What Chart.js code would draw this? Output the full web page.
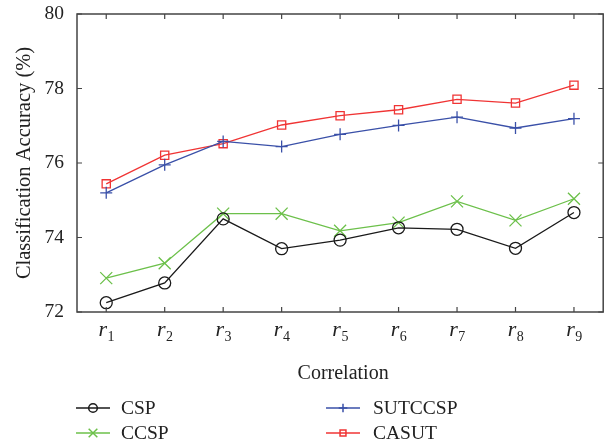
<!DOCTYPE html>
<html lang="en">
<head>
    <meta charset="UTF-8">
    <title>Classification Accuracy vs Correlation</title>
    <script src="https://cdn.jsdelivr.net/npm/chart.js"></script>
    <style>
        body { margin: 0; padding: 0; background: #fff; }
        .chart-box { width: 613px; height: 447px; position: relative; }
    </style>
</head>
<body>
    <div class="chart-box"><canvas id="accChart"></canvas></div>

    <script>
        // data
        const corrLabels = ['1', '2', '3', '4', '5', '6', '7', '8', '9'];   // subscripts of r
        const yTicks = [72, 74, 76, 78, 80];
        const cspVals     = [72.25, 72.78, 74.50, 73.70, 73.93, 74.26, 74.22, 73.71, 74.67];
        const ccspVals    = [72.91, 73.31, 74.64, 74.64, 74.18, 74.40, 74.97, 74.46, 75.04];
        const sutccspVals = [75.20, 75.95, 76.58, 76.44, 76.77, 77.01, 77.23, 76.94, 77.19];
        const casutVals   = [75.44, 76.21, 76.52, 77.02, 77.27, 77.43, 77.71, 77.61, 78.09];

        const serif = "'Liberation Serif', 'DejaVu Serif', serif";

        function pts(vals) {
            return vals.map((v, i) => ({ x: i + 1, y: v }));
        }

        const series = [
            { label: 'CSP', data: cspVals, color: '#1a1a1a', style: 'circle', r: 6 },
            { label: 'CCSP', data: ccspVals, color: '#6cc04a', style: 'crossRot', r: 8.5 },
            { label: 'SUTCCSP', data: sutccspVals, color: '#3a50a8', style: 'cross', r: 6 },
            { label: 'CASUT', data: casutVals, color: '#f03434', style: 'rect', r: 5.8 }
        ];

        const framePlugin = {
            id: 'frame',
            afterDraw(chart) {
                const ctx = chart.ctx;
                const a = chart.chartArea;
                const xs = chart.scales.x, ys = chart.scales.y;
                ctx.save();
                // frame
                ctx.strokeStyle = '#444';
                ctx.lineWidth = 1.5;
                ctx.strokeRect(a.left, a.top, a.right - a.left, a.bottom - a.top);
                // inward ticks
                ctx.lineWidth = 1.2;
                ctx.beginPath();
                corrLabels.forEach((l, i) => {
                    const px = xs.getPixelForValue(i + 1);
                    ctx.moveTo(px, a.bottom); ctx.lineTo(px, a.bottom - 5);
                    ctx.moveTo(px, a.top); ctx.lineTo(px, a.top + 5);
                });
                yTicks.forEach(t => {
                    const py = ys.getPixelForValue(t);
                    ctx.moveTo(a.left, py); ctx.lineTo(a.left + 5, py);
                    ctx.moveTo(a.right, py); ctx.lineTo(a.right - 5, py);
                });
                ctx.stroke();

                // x tick labels r_i
                ctx.fillStyle = '#222';
                ctx.textBaseline = 'alphabetic';
                corrLabels.forEach((l, i) => {
                    const px = xs.getPixelForValue(i + 1);
                    ctx.font = 'italic 22px ' + serif;
                    const rw = ctx.measureText('r').width;
                    ctx.font = '14px ' + serif;
                    const sw = ctx.measureText(l).width;
                    const x0 = px - (rw + sw) / 2;
                    ctx.font = 'italic 22px ' + serif;
                    ctx.textAlign = 'left';
                    ctx.fillText('r', x0, 336);
                    ctx.font = '14px ' + serif;
                    ctx.fillText(l, x0 + rw + 0.5, 341);
                });

                // axis titles
                ctx.font = '20px ' + serif;
                ctx.textAlign = 'center';
                ctx.textBaseline = 'middle';
                ctx.fillText('Correlation', (a.left + a.right) / 2 + 3, 374);
                ctx.save();
                ctx.font = '20.5px ' + serif;
                ctx.translate(25, 163);
                ctx.rotate(-Math.PI / 2);
                ctx.fillText('Classification Accuracy (%)', 0, 0);
                ctx.restore();

                // legend, two columns
                const slots = [[76, 408], [76, 433], [326, 408], [326, 433]];
                series.forEach((s, i) => {
                    const [lx, ly] = slots[i];
                    ctx.strokeStyle = s.color;
                    ctx.lineWidth = 1.5;
                    ctx.beginPath();
                    ctx.moveTo(lx, ly); ctx.lineTo(lx + 34, ly);
                    ctx.stroke();
                    ctx.fillStyle = 'rgba(0,0,0,0)';
                    Chart.helpers.drawPoint(ctx, { pointStyle: s.style, radius: s.r * 0.72, borderWidth: 1.4, rotation: 0 }, lx + 17, ly);
                    ctx.fillStyle = '#222';
                    ctx.textAlign = 'left';
                    ctx.textBaseline = 'middle';
                    ctx.font = '19.5px ' + serif;
                    ctx.fillText(s.label, i < 2 ? 121 : 373, ly + 1);
                });
                ctx.restore();
            }
        };

        new Chart(document.getElementById('accChart'), {
            type: 'line',
            data: {
                datasets: series.map(s => ({
                    label: s.label,
                    data: pts(s.data),
                    borderColor: s.color,
                    borderWidth: 1.3,
                    pointStyle: s.style,
                    pointRadius: s.r,
                    pointBorderWidth: 1.3,
                    pointBorderColor: s.color,
                    pointBackgroundColor: 'rgba(0,0,0,0)',
                    tension: 0
                }))
            },
            options: {
                responsive: true,
                maintainAspectRatio: false,
                animation: false,
                layout: { padding: { left: 0, right: 7, top: 14, bottom: 0 } },
                plugins: { legend: { display: false }, tooltip: { enabled: false } },
                scales: {
                    x: {
                        type: 'linear',
                        min: 0.5, max: 9.5,
                        grid: { display: false, drawTicks: false },
                        border: { display: false },
                        ticks: { display: false },
                        afterFit: (scale) => { scale.height = 135; scale.paddingLeft = 0; scale.paddingRight = 0; }
                    },
                    y: {
                        min: 72, max: 80,
                        grid: { display: false, drawTicks: false },
                        border: { display: false },
                        ticks: {
                            stepSize: 2,
                            padding: 13,
                            color: '#222',
                            font: { family: serif, size: 19.5 }
                        },
                        afterFit: (scale) => { scale.width = 77; scale.paddingTop = 0; scale.paddingBottom = 0; }
                    }
                }
            },
            plugins: [framePlugin]
        });
    </script>
</body>
</html>
